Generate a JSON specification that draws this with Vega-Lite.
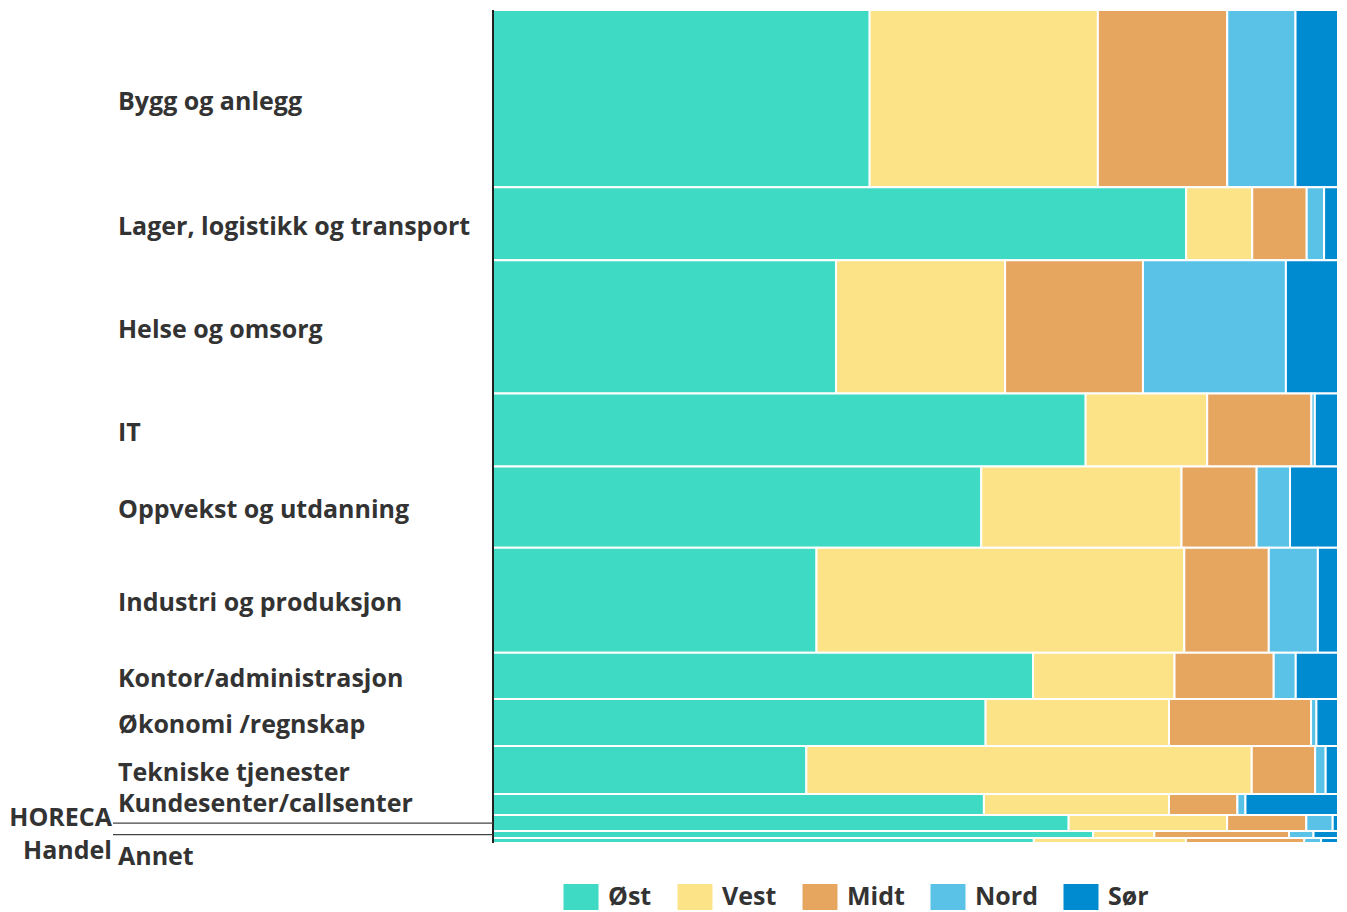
{
  "$schema": "https://vega.github.io/schema/vega-lite/v6.json",
  "width": 845,
  "height": 833,
  "autosize": "none",
  "padding": {"left": 493, "top": 10, "right": 9, "bottom": 69},
  "background": "white",
  "config": {"view": {"stroke": null}, "font": "Open Sans"},
  "data": {"values": [
    {"sector": "Bygg og anlegg", "region": "Øst", "value": 789},
    {"sector": "Bygg og anlegg", "region": "Vest", "value": 478},
    {"sector": "Bygg og anlegg", "region": "Midt", "value": 271},
    {"sector": "Bygg og anlegg", "region": "Nord", "value": 143},
    {"sector": "Bygg og anlegg", "region": "Sør", "value": 89},
    {"sector": "Lager, logistikk og transport", "region": "Øst", "value": 598},
    {"sector": "Lager, logistikk og transport", "region": "Vest", "value": 57},
    {"sector": "Lager, logistikk og transport", "region": "Midt", "value": 47},
    {"sector": "Lager, logistikk og transport", "region": "Nord", "value": 15},
    {"sector": "Lager, logistikk og transport", "region": "Sør", "value": 12},
    {"sector": "Helse og omsorg", "region": "Øst", "value": 540},
    {"sector": "Helse og omsorg", "region": "Vest", "value": 266},
    {"sector": "Helse og omsorg", "region": "Midt", "value": 217},
    {"sector": "Helse og omsorg", "region": "Nord", "value": 225},
    {"sector": "Helse og omsorg", "region": "Sør", "value": 82},
    {"sector": "IT", "region": "Øst", "value": 512},
    {"sector": "IT", "region": "Vest", "value": 105},
    {"sector": "IT", "region": "Midt", "value": 90},
    {"sector": "IT", "region": "Nord", "value": 3},
    {"sector": "IT", "region": "Sør", "value": 20},
    {"sector": "Oppvekst og utdanning", "region": "Øst", "value": 468},
    {"sector": "Oppvekst og utdanning", "region": "Vest", "value": 192},
    {"sector": "Oppvekst og utdanning", "region": "Midt", "value": 72},
    {"sector": "Oppvekst og utdanning", "region": "Nord", "value": 32},
    {"sector": "Oppvekst og utdanning", "region": "Sør", "value": 46},
    {"sector": "Industri og produksjon", "region": "Øst", "value": 402},
    {"sector": "Industri og produksjon", "region": "Vest", "value": 457},
    {"sector": "Industri og produksjon", "region": "Midt", "value": 105},
    {"sector": "Industri og produksjon", "region": "Nord", "value": 61},
    {"sector": "Industri og produksjon", "region": "Sør", "value": 25},
    {"sector": "Kontor/administrasjon", "region": "Øst", "value": 294},
    {"sector": "Kontor/administrasjon", "region": "Vest", "value": 77},
    {"sector": "Kontor/administrasjon", "region": "Midt", "value": 54},
    {"sector": "Kontor/administrasjon", "region": "Nord", "value": 12},
    {"sector": "Kontor/administrasjon", "region": "Sør", "value": 23},
    {"sector": "Økonomi /regnskap", "region": "Øst", "value": 274},
    {"sector": "Økonomi /regnskap", "region": "Vest", "value": 102},
    {"sector": "Økonomi /regnskap", "region": "Midt", "value": 79},
    {"sector": "Økonomi /regnskap", "region": "Nord", "value": 3},
    {"sector": "Økonomi /regnskap", "region": "Sør", "value": 12},
    {"sector": "Tekniske tjenester", "region": "Øst", "value": 178},
    {"sector": "Tekniske tjenester", "region": "Vest", "value": 253},
    {"sector": "Tekniske tjenester", "region": "Midt", "value": 36},
    {"sector": "Tekniske tjenester", "region": "Nord", "value": 6},
    {"sector": "Tekniske tjenester", "region": "Sør", "value": 7},
    {"sector": "Kundesenter/callsenter", "region": "Øst", "value": 122},
    {"sector": "Kundesenter/callsenter", "region": "Vest", "value": 46},
    {"sector": "Kundesenter/callsenter", "region": "Midt", "value": 17},
    {"sector": "Kundesenter/callsenter", "region": "Nord", "value": 2},
    {"sector": "Kundesenter/callsenter", "region": "Sør", "value": 23},
    {"sector": "HORECA", "region": "Øst", "value": 109},
    {"sector": "HORECA", "region": "Vest", "value": 30},
    {"sector": "HORECA", "region": "Midt", "value": 15},
    {"sector": "HORECA", "region": "Nord", "value": 5},
    {"sector": "HORECA", "region": "Sør", "value": 1},
    {"sector": "Handel", "region": "Øst", "value": 49},
    {"sector": "Handel", "region": "Vest", "value": 5},
    {"sector": "Handel", "region": "Midt", "value": 11},
    {"sector": "Handel", "region": "Nord", "value": 2},
    {"sector": "Handel", "region": "Sør", "value": 2},
    {"sector": "Annet", "region": "Øst", "value": 32},
    {"sector": "Annet", "region": "Vest", "value": 9},
    {"sector": "Annet", "region": "Midt", "value": 7},
    {"sector": "Annet", "region": "Nord", "value": 1},
    {"sector": "Annet", "region": "Sør", "value": 1}
  ]},
  "transform": [
    {"window": [{"op": "row_number", "as": "idx"}]},
    {"joinaggregate": [{"op": "sum", "field": "value", "as": "total"}], "groupby": ["sector"]},
    {"stack": "value", "groupby": ["sector"], "offset": "normalize", "sort": [{"field": "idx", "order": "ascending"}], "as": ["x0", "x1"]},
    {"stack": "total", "groupby": ["region"], "offset": "normalize", "sort": [{"field": "idx", "order": "ascending"}], "as": ["y0", "y1"]}
  ],
  "layer": [
    {
      "mark": {"type": "rect", "stroke": "white", "strokeWidth": 2},
      "encoding": {
        "x": {"field": "x0", "type": "quantitative", "scale": {"domain": [0, 1], "nice": false, "zero": false}, "axis": null},
        "x2": {"field": "x1"},
        "y": {"field": "y0", "type": "quantitative", "scale": {"domain": [0, 1], "reverse": true, "nice": false, "zero": false}, "axis": null},
        "y2": {"field": "y1"},
        "color": {
          "field": "region",
          "type": "nominal",
          "scale": {"domain": ["Øst", "Vest", "Midt", "Nord", "Sør"], "range": ["#3FDAC3", "#FCE388", "#E6A660", "#5BC2E7", "#008BD0"]},
          "legend": {
            "orient": "none",
            "legendX": 75,
            "legendY": 874,
            "direction": "horizontal",
            "title": null,
            "padding": 0,
            "symbolType": "M-1.346,-1L1.346,-1L1.346,1L-1.346,1Z",
            "symbolSize": 676,
            "symbolStrokeWidth": 0,
            "symbolOpacity": 1,
            "labelFont": "Open Sans",
            "labelFontSize": 25,
            "labelFontWeight": "bold",
            "labelColor": "#333333",
            "labelOffset": 14,
            "columnPadding": 25
          }
        }
      }
    },
    {
      "data": {"values": [{}]},
      "mark": {"type": "rule", "color": "#222222", "strokeWidth": 2},
      "encoding": {
        "x": {"datum": 0, "type": "quantitative", "axis": null},
        "y": {"datum": 0, "type": "quantitative", "axis": null},
        "y2": {"datum": 1}
      }
    },
    {
      "transform": [
        {"fold": ["y0", "y1"], "as": ["k", "v"]},
        {"aggregate": [{"op": "mean", "field": "v", "as": "mid"}], "groupby": ["sector"]}
      ],
      "layer": [
        {
          "transform": [{"filter": {"field": "sector", "oneOf": ["HORECA", "Handel"]}}],
          "mark": {"type": "rule", "color": "#444444", "strokeWidth": 1.2},
          "encoding": {
            "x": {"datum": -0.4497, "type": "quantitative", "axis": null},
            "x2": {"datum": 0},
            "y": {"field": "mid", "type": "quantitative", "axis": null}
          }
        },
        {
          "transform": [{"filter": {"not": {"field": "sector", "oneOf": ["HORECA", "Handel", "Annet", "Kundesenter/callsenter"]}}}],
          "mark": {"type": "text", "align": "left", "baseline": "middle", "dy": 3, "font": "Open Sans", "fontSize": 25, "fontWeight": "bold", "color": "#333333"},
          "encoding": {
            "x": {"datum": -0.4438, "type": "quantitative", "axis": null},
            "y": {"field": "mid", "type": "quantitative", "axis": null},
            "text": {"field": "sector", "type": "nominal"}
          }
        },
        {
          "transform": [{"filter": {"field": "sector", "equal": "Kundesenter/callsenter"}}],
          "mark": {"type": "text", "align": "left", "baseline": "middle", "dy": -1, "font": "Open Sans", "fontSize": 25, "fontWeight": "bold", "color": "#333333"},
          "encoding": {
            "x": {"datum": -0.4438, "type": "quantitative", "axis": null},
            "y": {"field": "mid", "type": "quantitative", "axis": null},
            "text": {"field": "sector", "type": "nominal"}
          }
        },
        {
          "transform": [{"filter": {"field": "sector", "equal": "Annet"}}],
          "mark": {"type": "text", "align": "left", "baseline": "middle", "dy": 17, "font": "Open Sans", "fontSize": 25, "fontWeight": "bold", "color": "#333333"},
          "encoding": {
            "x": {"datum": -0.4438, "type": "quantitative", "axis": null},
            "y": {"field": "mid", "type": "quantitative", "axis": null},
            "text": {"field": "sector", "type": "nominal"}
          }
        },
        {
          "transform": [{"filter": {"field": "sector", "equal": "HORECA"}}],
          "mark": {"type": "text", "align": "right", "baseline": "middle", "dy": -5, "font": "Open Sans", "fontSize": 25, "fontWeight": "bold", "color": "#333333"},
          "encoding": {
            "x": {"datum": -0.4509, "type": "quantitative", "axis": null},
            "y": {"field": "mid", "type": "quantitative", "axis": null},
            "text": {"field": "sector", "type": "nominal"}
          }
        },
        {
          "transform": [{"filter": {"field": "sector", "equal": "Handel"}}],
          "mark": {"type": "text", "align": "right", "baseline": "middle", "dy": 16, "font": "Open Sans", "fontSize": 25, "fontWeight": "bold", "color": "#333333"},
          "encoding": {
            "x": {"datum": -0.4509, "type": "quantitative", "axis": null},
            "y": {"field": "mid", "type": "quantitative", "axis": null},
            "text": {"field": "sector", "type": "nominal"}
          }
        }
      ]
    }
  ]
}
